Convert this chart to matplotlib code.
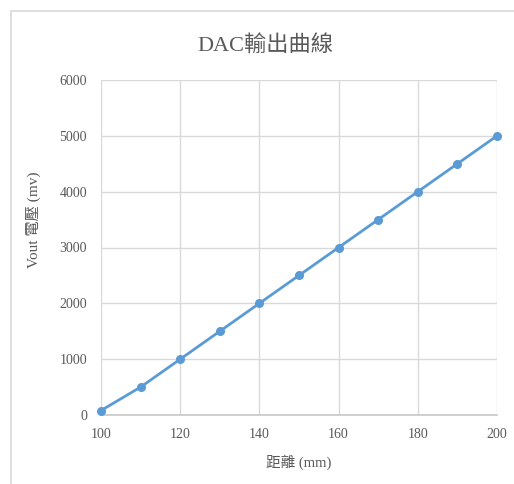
import matplotlib
matplotlib.use("Agg")
import matplotlib.pyplot as plt
from matplotlib.patches import Rectangle

# Measured DAC output versus distance
distance_mm = [100, 110, 120, 130, 140, 150, 160, 170, 180, 190, 200]
vout_mv = [80, 500, 1000, 1500, 2000, 2500, 3000, 3500, 4000, 4500, 5000]
x_ticks = [100, 120, 140, 160, 180, 200]
y_ticks = [0, 1000, 2000, 3000, 4000, 5000, 6000]

fonts = ["Liberation Serif", "Noto Sans CJK TC", "DejaVu Sans"]
plt.rcParams["font.family"] = fonts

W, H = 514, 484
fig = plt.figure(figsize=(W / 100, H / 100), dpi=100)
fig.patch.set_facecolor("white")

# Chart-area frame (open at right and bottom edges)
fig.add_artist(Rectangle((11 / W, -0.1), 1.2, 1 - 11 / H + 0.1,
                         transform=fig.transFigure, fill=False,
                         edgecolor="#d9d9d9", linewidth=1.2))

ax = fig.add_axes([101 / W, 1 - 415 / H, (497 - 101) / W, (415 - 80) / H])
ax.plot(distance_mm, vout_mv, color="#5b9bd5", linewidth=2,
        marker="o", markersize=5.5, zorder=3, clip_on=False)

ax.set_xlim(100, 200)
ax.set_ylim(0, 6000)
ax.set_xticks(x_ticks)
ax.set_yticks(y_ticks)
ax.tick_params(length=0, labelsize=10, colors="#595959")
ax.tick_params(axis="y", pad=10)
ax.tick_params(axis="x", pad=9)
ax.grid(True, color="#d9d9d9", linewidth=1)
ax.set_axisbelow(True)
for side in ("top", "right", "left"):
    ax.spines[side].set_visible(False)
ax.spines["bottom"].set_color("#c8c8c8")
ax.spines["bottom"].set_linewidth(1.2)

ax.set_xlabel("距離 (mm)", fontsize=10.5, color="#595959", va="center")
ax.xaxis.set_label_coords(0.5, -(462 - 415) / 335)
ax.set_ylabel("Vout 電壓 (mv)", fontsize=11, color="#595959",
              va="center")
ax.yaxis.set_label_coords(-(101 - 33) / 396, (415 - 220) / 335)

fig.text(265 / W, 1 - 45 / H, "DAC輸出曲線", ha="center", va="center",
         fontsize=16, color="#595959")

fig.savefig("out.png", dpi=100)
